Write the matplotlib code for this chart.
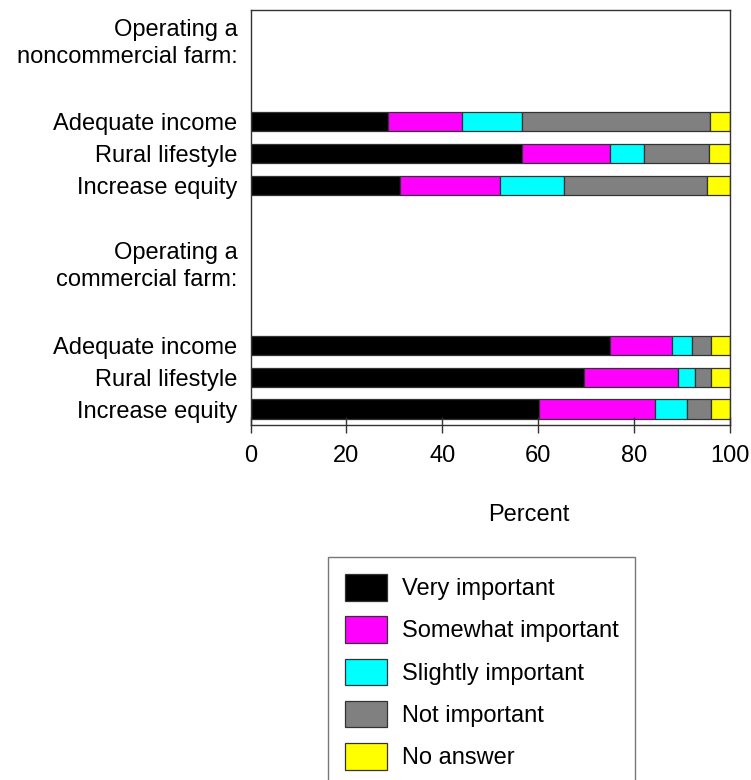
import matplotlib
matplotlib.use("Agg")
import matplotlib.pyplot as plt
import numpy as np

plt.rcParams['font.family'] = ['Liberation Sans', 'DejaVu Sans']

groups = ["Operating a\nnoncommercial farm:", "Operating a\ncommercial farm:"]
items = ["Adequate income", "Rural lifestyle", "Increase equity"]
categories = ["Very important", "Somewhat important", "Slightly important",
              "Not important", "No answer"]
colors = ["#000000", "#ff00ff", "#00ffff", "#808080", "#ffff00"]

# rows: noncommercial (Adequate, Rural, Equity), commercial (Adequate, Rural, Equity)
very_important     = [28.7, 56.7, 31.2, 74.9, 69.5, 60.1]
somewhat_important = [15.4, 18.3, 20.9, 12.9, 19.6, 24.3]
slightly_important = [12.6, 7.0, 13.3, 4.3, 3.5, 6.6]
not_important      = [39.1, 13.7, 29.9, 4.0, 3.5, 5.1]
no_answer          = [4.2, 4.3, 4.7, 3.9, 3.9, 3.9]
series = [very_important, somewhat_important, slightly_important, not_important, no_answer]

# layout positions (slots)
bar_pos = [9, 8, 7, 2, 1, 0]
header_pos = [11.62, 4.62]

FS = 17

fig = plt.figure(figsize=(7.51, 7.80), dpi=100)
ax = fig.add_axes([250.5/751, 1-425/780, (730-250.5)/751, (425-10)/780])

left = np.zeros(len(bar_pos))
for vals, col, lab in zip(series, colors, categories):
    ax.barh(bar_pos, vals, left=left, height=0.6, color=col,
            edgecolor="#333333", linewidth=0.9, label=lab)
    left += np.array(vals)

ax.set_xlim(0, 100)
ax.set_ylim(-0.5, 12.5)
ax.set_xticks([0, 20, 40, 60, 80, 100])
ax.tick_params(axis='x', direction='inout', length=11, width=1, colors='#333333',
               labelcolor='black', labelsize=FS, pad=8.6)
yt = bar_pos + header_pos
yl = items + items + groups
ax.set_yticks(yt)
ax.set_yticklabels(yl, fontsize=FS, linespacing=1.3)
ax.tick_params(axis='y', length=0, pad=9.4)
for s in ax.spines.values():
    s.set_color('#333333')
    s.set_linewidth(1)

fig.text(529/751, 1-515/780, "Percent", ha='center', va='center', fontsize=FS)

leg = ax.legend(loc='upper left', bbox_to_anchor=(328/751, 1-557/780),
                bbox_transform=fig.transFigure, borderaxespad=0,
                fontsize=FS, frameon=True, fancybox=False,
                handlelength=1.78, handleheight=1.35, labelspacing=0.67,
                handletextpad=0.62, borderpad=0.72)
leg.get_frame().set_edgecolor('#555555')
leg.get_frame().set_linewidth(1)

fig.savefig("out.png", dpi=100)
